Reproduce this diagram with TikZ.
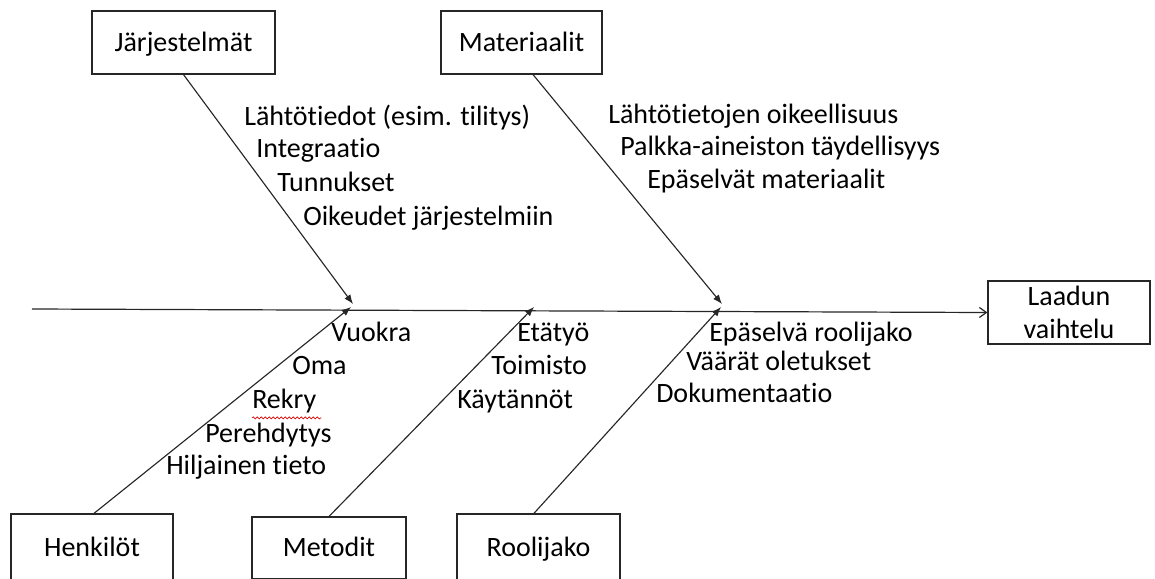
\documentclass[tikz,border=0pt]{standalone}
\usepackage{fontspec}
\setmainfont{Carlito}[Ligatures=NoCommon]
\usetikzlibrary{arrows.meta,calc,decorations.pathmorphing}
\begin{document}
\begin{tikzpicture}[x=0.75pt,y=-0.75pt,
  box/.style={draw=black!85,line width=0.9pt,rectangle,inner sep=0pt,align=center,
    font=\fontsize{21pt}{24.75pt}\selectfont},
  onebox/.style={box,text height=13pt,text depth=0pt},
  lab/.style={anchor=west,inner sep=0pt,text height=13pt,text depth=0pt,
    font=\fontsize{21pt}{24.75pt}\selectfont},
  bone/.style={draw=black!85,line width=0.85pt,-{Latex[length=7pt,width=5.5pt]}},
  spine/.style={draw=black!85,line width=0.9pt,-{Straight Barb[length=5.25pt,width=7.5pt]}},
  spell/.style={draw=red!85!black,line width=0.5pt,decorate,
    decoration={snake,amplitude=0.8pt,segment length=3pt}}]
\useasboundingbox (0,0) rectangle (1155,578);
\clip (0,0) rectangle (1155,578);
% category boxes
\node[onebox,minimum width=137.25pt,minimum height=47.25pt] (jar) at (183.5,42.5) {Järjestelmät};
\node[onebox,minimum width=120.75pt,minimum height=47.25pt] (mat) at (521.5,42.5) {Materiaalit};
\node[box,minimum width=121.5pt,minimum height=47.25pt] (laa) at (1069,312.5) {Laadun\\vaihtelu};
\node[onebox,minimum width=121.5pt,minimum height=51pt] (hen) at (92,548) {Henkilöt};
\node[onebox,minimum width=115.5pt,minimum height=46.5pt] (met) at (329,548) {Metodit};
\node[onebox,minimum width=122.25pt,minimum height=51pt] (rool) at (538.5,548) {Roolijako};
% spine
\coordinate (tail) at (32,309);
\draw[spine] (tail) -- (laa.west);
% junction points
\coordinate (j1t) at (353,304);
\coordinate (j1b) at (351,307);
\coordinate (j2b) at (534,307);
\coordinate (j3t) at (722,304);
\coordinate (j3b) at (721,307);
% bones
\draw[bone] (jar.south) -- (j1t);
\draw[bone] ($(mat.south west)!0.571!(mat.south east)$) -- (j3t);
\draw[bone] ($(hen.north west)!0.512!(hen.north east)$) -- (j1b);
\draw[bone] (met.north) -- (j2b);
\draw[bone] ($(rool.north west)!0.472!(rool.north east)$) -- (j3b);
% labels
\node[lab] (a1) at (244,117) {Lähtötiedot (esim. tilitys)};
\node[lab] (a2) at (256,149) {Integraatio};
\node[lab] (a3) at (277,183) {Tunnukset};
\node[lab] (a4) at (303,217) {Oikeudet järjestelmiin};
\node[lab] (b1) at (608,115) {Lähtötietojen oikeellisuus};
\node[lab] (b2) at (620,147) {Palkka-aineiston täydellisyys};
\node[lab] (b3) at (647,180) {Epäselvät materiaalit};
\node[lab] (c1) at (331,333) {Vuokra};
\node[lab] (c2) at (292,366) {Oma};
\node[lab] (c3) at (252,400) {Rekry};
\node[lab] (c4) at (205,434) {Perehdytys};
\node[lab] (c5) at (166,466) {Hiljainen tieto};
\node[lab] (d1) at (517,333) {Etätyö};
\node[lab] (d2) at (491,366) {Toimisto};
\node[lab] (d3) at (457,400) {Käytännöt};
\node[lab] (e1) at (709,333) {Epäselvä roolijako};
\node[lab] (e2) at (686,362) {Väärät oletukset};
\node[lab] (e3) at (656,394) {Dokumentaatio};
% spell-check underline
\draw[spell] ($(c3.south west)+(0,9)$) -- ($(c3.south east)+(5,9)$);
\end{tikzpicture}
\end{document}
